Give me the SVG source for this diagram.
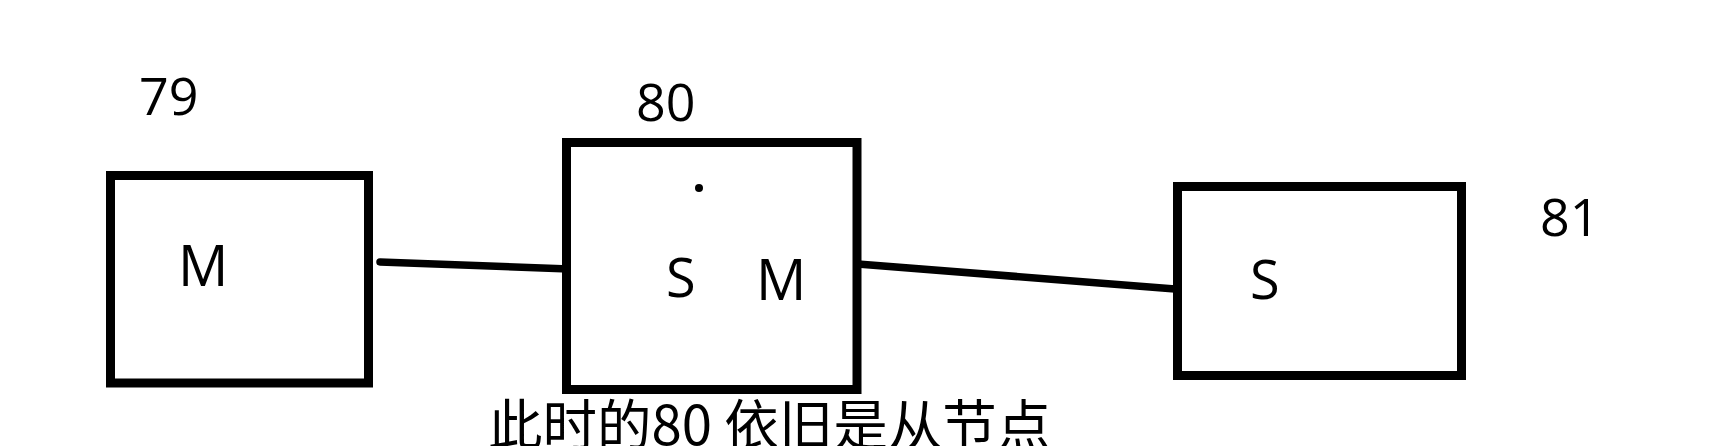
<svg xmlns="http://www.w3.org/2000/svg" width="1713" height="446" viewBox="0 0 1713 446">
<style>
.box{fill:#fff;stroke:#000;stroke-width:9}
.lbl{font-family:"Open Sans","Noto Sans",sans-serif;fill:#000}
.num{font-family:"Open Sans","Noto Sans",sans-serif;fill:#000;font-size:52px}
.conn{stroke:#000;stroke-width:7.5;stroke-linecap:round;fill:none}
.cap{font-family:"Noto Sans CJK SC","Open Sans",sans-serif;font-size:54.5px;fill:#000}
</style>
<rect width="1713" height="446" fill="#fff"/>
<g id="connectors">
<line class="conn" x1="380" y1="262" x2="569" y2="269"/>
<line class="conn" x1="845" y1="263" x2="1175" y2="289"/>
</g>
<g id="node79">
<rect class="box" x="110.5" y="175.5" width="258" height="207.5"/>
<text class="num" x="139" y="115">79</text>
<text class="lbl" x="178" y="286" font-size="56">M</text>
</g>
<g id="node80">
<rect class="box" x="566.5" y="142.5" width="290.5" height="247"/>
<text class="num" x="636" y="121">80</text>
<circle cx="699" cy="188" r="4" fill="#000"/>
<text class="lbl" x="666" y="297" font-size="54">S</text>
<text class="lbl" x="756" y="300" font-size="56">M</text>
</g>
<g id="node81">
<rect class="box" x="1177.5" y="186.5" width="284" height="189"/>
<text class="num" x="1540" y="236">81</text>
<text class="lbl" x="1250" y="299" font-size="54">S</text>
</g>
<text class="cap" x="488" y="445">此时的80 依旧是从节点</text>
</svg>
